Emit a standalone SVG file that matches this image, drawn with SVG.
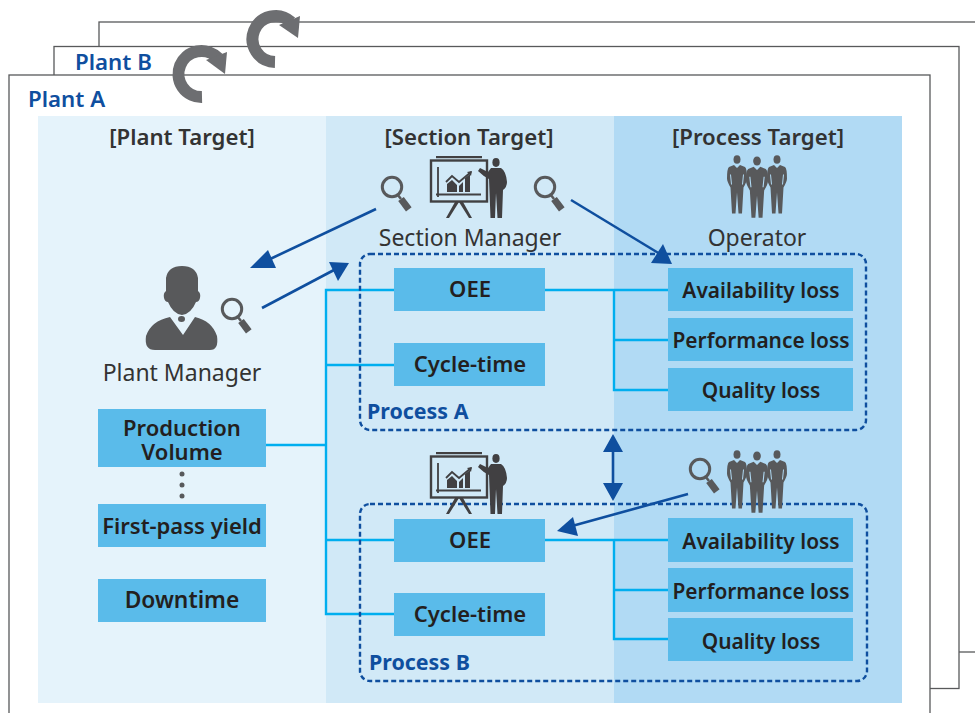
<svg xmlns="http://www.w3.org/2000/svg" width="975" height="713" viewBox="0 0 975 713">
<style>
text{font-family:"Noto Sans","Open Sans","Liberation Sans",sans-serif;text-anchor:middle}
.sheet{fill:#fff;stroke:#58595b;stroke-width:1.3}
.plant{font-size:22.300px;font-weight:600;fill:#0f4f9f;text-anchor:start}
.head{font-size:22.200px;font-weight:600;fill:#333}
.role{font-size:23px;fill:#333}
.box{fill:#5abbea}
.bt{font-size:22px;font-weight:600;fill:#231f20}
.bs{font-size:20.900px;font-weight:600;fill:#231f20}
.proc{font-size:21.400px;font-weight:700;fill:#0f4f9f;text-anchor:start}
.dash{fill:none;stroke:#0f4f9f;stroke-width:2.4;stroke-dasharray:5 3}
.wire{fill:none;stroke:#00aeef;stroke-width:2.4}
.arr{fill:none;stroke:#0f4f9f;stroke-width:2.6}
.ah{fill:#0f4f9f}
.ic{fill:#58595b}
.ps{fill:#414042}
.rot{fill:none;stroke:#6d6e71;stroke-width:12}
.slit{fill:none;stroke:#b1daf4;stroke-width:1}
</style>
<defs>
<g id="mag"><circle cx="0" cy="0" r="9.700" fill="none" stroke="#58595b" stroke-width="3"/><path d="M5.500 7.500L9 12" stroke="#58595b" stroke-width="2.500"/><path d="M11.800 9.900L19.600 20.300L14 24.500L6.200 14.100Z" class="ic"/></g>
<g id="presenter">
<rect x="431" y="160.500" width="56" height="41" fill="none" stroke="#414042" stroke-width="2.400"/>
<rect x="436" y="156" width="46" height="2.200" class="ps"/>
<path d="M438 167V197M436 194.500H481" fill="none" stroke="#414042" stroke-width="1.800"/>
<path d="M447 192V184L452 180L457 185V192ZM459 192V186L463 182V192ZM465 192V178L470 174V192Z" class="ps"/>
<path d="M446 182L452 176L459 182L471 172" fill="none" stroke="#414042" stroke-width="1.800"/>
<path d="M467 172L472 171L471 176Z" class="ps"/>
<path d="M446 218L455 202H459L449 218ZM472 218L463 202H459L469 218Z" class="ps"/>
<ellipse cx="496" cy="162.500" rx="3.600" ry="4.400" class="ps"/>
<path d="M478 171L480 168L488 172L491 168H501Q506 171 507 182Q507 187 503 190L502 218H497.500L496 193L495 218H490.500L489 179Q483 176 478 171Z" class="ps"/>
</g>
<g id="man">
<ellipse cx="0" cy="0" rx="3.500" ry="4.300" class="ic"/>
<path d="M-3 5.500L0 8.500L3 5.500L8 7.500Q10 9 10 19Q10 22 6.500 28L5 54H1.500L0 33L-1.500 54H-5L-6.500 28Q-10 22 -10 19Q-10 9 -8 7.500Z" class="ic"/>
<path class="slit" d="M-6.500 15L-5.500 25M6.500 15L5.500 25"/>
</g>
<g id="trio">
<use href="#man" x="737" y="159.500"/><use href="#man" x="777" y="159.500"/>
<g transform="translate(757 161) scale(1.100 1.050)"><use href="#man"/></g>
</g>
</defs>

<g id="sheets">
<rect class="sheet" x="99" y="22" width="900" height="630"/>
<rect class="sheet" x="54" y="46.500" width="905" height="642"/>
<rect class="sheet" x="9" y="75" width="921" height="660"/>
</g>
<g id="rotation-arrows">
<path class="rot" d="M202 97A23 23 0 1 1 218 58"/>
<path d="M227 52L225 74L206 60Z" fill="#6d6e71"/>
<path class="rot" d="M275 62A23 23 0 1 1 291 22"/>
<path d="M300 16L298 38L279 25Z" fill="#6d6e71"/>
</g>
<text class="plant" x="75" y="70">Plant B</text>
<text class="plant" x="28" y="107">Plant A</text>

<g id="panels">
<rect x="38" y="116" width="288" height="587" fill="#e5f3fb"/>
<rect x="326" y="116" width="288" height="587" fill="#d1e9f7"/>
<rect x="614" y="116" width="288" height="587" fill="#b1daf4"/>
</g>
<text class="head" x="182" y="145">[Plant Target]</text>
<text class="head" x="469" y="145">[Section Target]</text>
<text class="head" x="758" y="145">[Process Target]</text>

<g id="connectors">
<path class="wire" d="M266 445H326M394 290H326V614H394M326 365H394M326 540H394"/>
<path class="wire" d="M545 290H668M614 290V390H668M614 340H668"/>
<path class="wire" d="M545 540H668M614 540V639H668M614 590H668"/>
<path class="arr" d="M376 209L268 260"/>
<path class="ah" d="M250 268L268 250L276 268Z"/>
<path class="arr" d="M262 308L334 270"/>
<path class="ah" d="M349 263L329 262L338 281Z"/>
<path class="arr" d="M571 200L660 254"/>
<path class="ah" d="M672 264L663 244L651 263Z"/>
<path class="arr" d="M613 450V486"/>
<path class="ah" d="M613 434L603 452H623ZM613 501L603 483H623Z"/>
<path class="arr" d="M688 494L572 526"/>
<path class="ah" d="M557 531L573 517L578 536Z"/>
</g>

<g id="process-a"><rect class="dash" x="360" y="254" width="506" height="176" rx="10"/><text class="proc" x="367" y="419">Process A</text></g>
<g id="process-b"><rect class="dash" x="360" y="504" width="507" height="177" rx="10"/><text class="proc" x="369" y="670">Process B</text></g>

<g id="plant-manager">
<path class="ic" d="M166 278Q168 266 182 266Q196 266 198 278L198 291Q201 293 200 298Q199 302 196 302Q191 314 182 315Q173 314 168 302Q165 302 164 298Q163 293 166 291ZM170 317L183 335L195 317Q212 321 217 336Q219 350 210 350H155Q144 350 146 336Q151 321 170 317Z"/>
<ellipse cx="181.500" cy="319" rx="3.500" ry="3" class="ic"/>
<use href="#mag" x="232" y="309"/>
<text class="role" x="182" y="381">Plant Manager</text>
</g>
<g id="section-manager">
<use href="#mag" x="392" y="187"/><use href="#presenter"/><use href="#mag" x="545" y="187"/>
<text class="role" x="470" y="246">Section Manager</text>
</g>
<g id="operator"><use href="#trio"/><text class="role" x="757" y="246">Operator</text></g>
<g id="section-b"><use href="#presenter" y="296"/></g>
<g id="operator-b"><use href="#mag" x="700" y="469"/><use href="#trio" y="295"/></g>

<g id="production-volume"><rect class="box" x="98" y="409" width="168" height="58"/><text class="bt" y="436"><tspan x="182">Production</tspan><tspan x="182" dy="24">Volume</tspan></text></g>
<g id="dots" class="ic"><circle cx="182" cy="474" r="2.500"/><circle cx="182" cy="485" r="2.500"/><circle cx="182" cy="496" r="2.500"/></g>
<g id="first-pass-yield"><rect class="box" x="98" y="504" width="168" height="43"/><text class="bt" x="182" y="534">First-pass yield</text></g>
<g id="downtime"><rect class="box" x="98" y="579" width="168" height="43"/><text class="bt" x="182" y="608" style="font-size:22.800px">Downtime</text></g>

<g id="oee-a"><rect class="box" x="394" y="268" width="151" height="43"/><text class="bt" x="470" y="297">OEE</text></g>
<g id="cycle-a"><rect class="box" x="394" y="343" width="151" height="43"/><text class="bt" x="470" y="372">Cycle-time</text></g>
<g id="avail-a"><rect class="box" x="668" y="268" width="185" height="43"/><text class="bs" x="761" y="298">Availability loss</text></g>
<g id="perf-a"><rect class="box" x="668" y="318" width="185" height="43"/><text class="bs" x="761" y="348">Performance loss</text></g>
<g id="qual-a"><rect class="box" x="668" y="368" width="185" height="43"/><text class="bs" x="761" y="398">Quality loss</text></g>

<g id="oee-b"><rect class="box" x="394" y="519" width="151" height="43"/><text class="bt" x="470" y="548">OEE</text></g>
<g id="cycle-b"><rect class="box" x="394" y="593" width="151" height="43"/><text class="bt" x="470" y="622">Cycle-time</text></g>
<g id="avail-b"><rect class="box" x="668" y="518" width="185" height="44"/><text class="bs" x="761" y="549">Availability loss</text></g>
<g id="perf-b"><rect class="box" x="668" y="568" width="185" height="44"/><text class="bs" x="761" y="599">Performance loss</text></g>
<g id="qual-b"><rect class="box" x="668" y="618" width="185" height="43"/><text class="bs" x="761" y="649">Quality loss</text></g>
</svg>
